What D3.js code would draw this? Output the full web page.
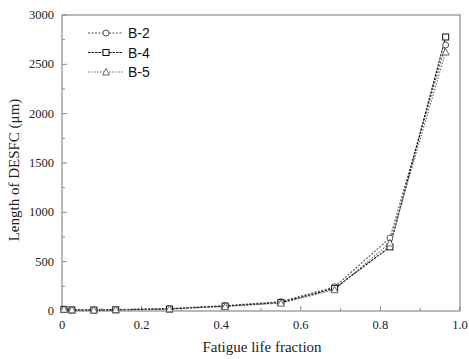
<!DOCTYPE html>
<html><head><meta charset="utf-8">
<script src="https://d3js.org/d3.v7.min.js"></script>
<style>body{margin:0;background:#fff}svg{display:block}</style>
</head><body>
<svg id="c" width="469" height="359"></svg>
<script>
const fraction = [0.005, 0.025, 0.08, 0.135, 0.27, 0.41, 0.55, 0.685, 0.824, 0.964];
const seriesNames = ["B-2", "B-4", "B-5"];
const b2 = [20, 15, 12, 15, 25, 55, 95, 245, 740, 2696];
const b4 = [15, 10, 10, 12, 20, 50, 85, 230, 650, 2777];
const b5 = [18, 12, 10, 14, 22, 45, 80, 215, 690, 2625];
const xTicks = [0, 0.2, 0.4, 0.6, 0.8, 1.0];
const xTickLabels = ["0", "0.2", "0.4", "0.6", "0.8", "1.0"];
const yTicks = [0, 500, 1000, 1500, 2000, 2500, 3000];

const svg = d3.select("#c");
const L = 62, R = 460, T = 15, B = 311;
const x = d3.scaleLinear().domain([0, 1]).range([L, R]);
const y = d3.scaleLinear().domain([0, 3000]).range([B, T]);
const frameCol = "#8a8a8a";

svg.append("rect").attr("x", L).attr("y", T).attr("width", R - L).attr("height", B - T)
  .attr("fill", "none").attr("stroke", frameCol).attr("stroke-width", 1.2);

const xMinor = d3.range(0, 1.01, 0.1);
svg.append("g").selectAll("line").data(xMinor).join("line")
  .attr("x1", d => x(d)).attr("x2", d => x(d))
  .attr("y1", B).attr("y2", (d, i) => B - (i % 2 === 0 ? 5 : 3))
  .attr("stroke", frameCol);
svg.append("g").selectAll("text").data(xTicks).join("text")
  .attr("x", d => x(d)).attr("y", 329).attr("text-anchor", "middle")
  .attr("font-family", "Liberation Serif, serif").attr("font-size", 12.5).attr("fill", "#222")
  .text((d, i) => xTickLabels[i]);

const yMinor = d3.range(0, 3001, 250);
svg.append("g").selectAll("line").data(yMinor).join("line")
  .attr("y1", d => y(d)).attr("y2", d => y(d))
  .attr("x1", L).attr("x2", (d, i) => L + (i % 2 === 0 ? 5 : 3))
  .attr("stroke", frameCol);
svg.append("g").selectAll("text").data(yTicks).join("text")
  .attr("x", 54).attr("y", d => y(d) + 4).attr("text-anchor", "end")
  .attr("font-family", "Liberation Serif, serif").attr("font-size", 12.5).attr("fill", "#222")
  .text(d => d);

svg.append("text").attr("x", 262).attr("y", 352).attr("text-anchor", "middle")
  .attr("font-family", "Liberation Serif, serif").attr("font-size", 15).attr("fill", "#222")
  .text("Fatigue life fraction");
svg.append("text").attr("transform", "translate(19,170) rotate(-90)").attr("text-anchor", "middle")
  .attr("font-family", "Liberation Serif, serif").attr("font-size", 15).attr("fill", "#222")
  .text("Length of DESFC (μm)");

const series = [
  {name: seriesNames[0], vals: b2, color: "#555", dash: "2,1.5", shape: "circle"},
  {name: seriesNames[1], vals: b4, color: "#111", dash: "2.5,1", shape: "square"},
  {name: seriesNames[2], vals: b5, color: "#666", dash: "1.5,1.5", shape: "triangle"}
];
const line = d3.line().x((d, i) => x(fraction[i])).y(d => y(d));

function marker(g, shape, cx, cy, color) {
  if (shape === "circle") g.append("circle").attr("cx", cx).attr("cy", cy).attr("r", 3)
    .attr("fill", "#fff").attr("stroke", color).attr("stroke-width", 1);
  else if (shape === "square") g.append("rect").attr("x", cx - 3).attr("y", cy - 3)
    .attr("width", 6).attr("height", 6).attr("fill", "#fff").attr("stroke", color).attr("stroke-width", 1);
  else g.append("path").attr("d", `M${cx},${cy - 3.5}L${cx + 3.5},${cy + 3}L${cx - 3.5},${cy + 3}Z`)
    .attr("fill", "#fff").attr("stroke", color).attr("stroke-width", 1);
}

series.forEach(s => {
  svg.append("path").datum(s.vals).attr("d", line).attr("fill", "none")
    .attr("stroke", s.color).attr("stroke-width", 1.1).attr("stroke-dasharray", s.dash);
});
series.forEach(s => {
  const g = svg.append("g");
  s.vals.forEach((v, i) => marker(g, s.shape, x(fraction[i]), y(v), s.color));
});

series.forEach((s, i) => {
  const ly = 33 + i * 19.5;
  svg.append("line").attr("x1", 88).attr("x2", 123).attr("y1", ly).attr("y2", ly)
    .attr("stroke", s.color).attr("stroke-width", 1.1).attr("stroke-dasharray", s.dash);
  marker(svg.append("g"), s.shape, 106, ly, s.color);
  svg.append("text").attr("x", 128).attr("y", ly + 5).attr("font-family", "Liberation Sans, Arial, sans-serif")
    .attr("font-size", 14).attr("fill", "#111").text(s.name);
});
</script>
</body></html>
